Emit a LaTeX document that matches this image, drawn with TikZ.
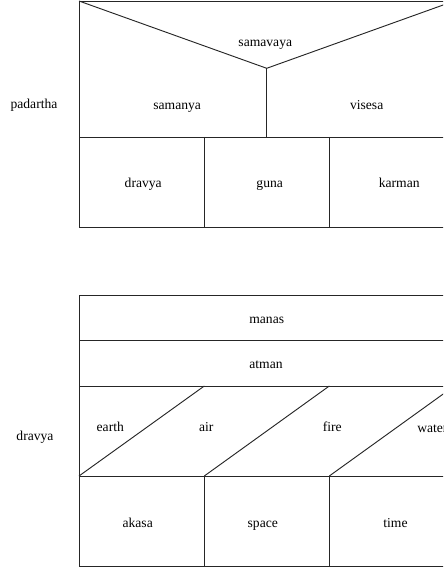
\documentclass[tikz,border=0pt]{standalone}
\usepackage{fontspec}
\setmainfont{Liberation Serif}
\begin{document}
\begin{tikzpicture}[x=0.75pt,y=-0.75pt,
  frame/.style={draw=black!85,line width=0.7pt},
  lbl/.style={font=\fontsize{10.2}{12}\selectfont,inner sep=0pt,anchor=base}]
\useasboundingbox (0,0) rectangle (443,570);
\clip (0,0) rectangle (443,570);
% ---- padartha box ----
\draw[frame] (79,1) rectangle (454.3,227.7);
\draw[frame] (79,137) -- (454.3,137);
\draw[frame] (79,1) -- (266.7,68.3) -- (454.3,1);
\draw[frame] (266.7,68.3) -- (266.7,137);
\draw[frame] (204.3,137) -- (204.3,227.7);
\draw[frame] (329.3,137) -- (329.3,227.7);
\node[lbl] (padartha) at (34,108.3) {padartha};
\node[lbl] (samavaya) at (265.3,46.7) {samavaya};
\node[lbl] (samanya) at (177.2,110) {samanya};
\node[lbl] (visesa) at (366.7,110) {visesa};
\node[lbl] (dravya) at (143.2,188) {dravya};
\node[lbl] (guna) at (269.7,188) {guna};
\node[lbl] (karman) at (399.2,188) {karman};
% ---- dravya box ----
\draw[frame] (79,295) rectangle (454.3,566.7);
\draw[frame] (79,340.7) -- (454.3,340.7);
\draw[frame] (79,386) -- (454.3,386);
\draw[frame] (79,476) -- (454.3,476);
\draw[frame] (79,476) -- (204.3,386);
\draw[frame] (204.3,476) -- (329.3,386);
\draw[frame] (329.3,476) -- (454.3,386);
\draw[frame] (204.3,476) -- (204.3,566.7);
\draw[frame] (329.3,476) -- (329.3,566.7);
\node[lbl] (dravyaL) at (35,440) {dravya};
\node[lbl] (manas) at (266.7,323.3) {manas};
\node[lbl] (atman) at (266,368.3) {atman};
\node[lbl] (earth) at (110.3,431.7) {earth};
\node[lbl] (air) at (206.3,431.7) {air};
\node[lbl] (fire) at (332.2,431.7) {fire};
\node[lbl,anchor=base west] (water) at (417,432.5) {water};
\node[lbl] (akasa) at (137.7,527.7) {akasa};
\node[lbl] (space) at (262.8,527.7) {space};
\node[lbl] (time) at (395.5,527.7) {time};
\end{tikzpicture}
\end{document}
